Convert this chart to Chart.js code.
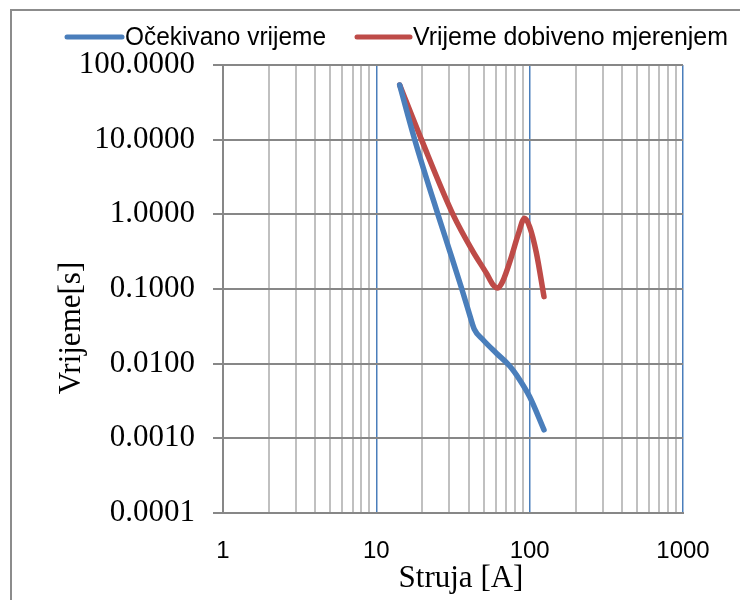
<!DOCTYPE html>
<html><head><meta charset="utf-8">
<script src="https://cdn.jsdelivr.net/npm/chart.js@4/dist/chart.umd.min.js"></script>
<style>html,body{margin:0;padding:0;background:#fff}#wrap{width:740px;height:600px}</style>
</head><body><div id="wrap"><canvas id="c" width="740" height="600"></canvas></div>
<script>
const seriesNames = ['Očekivano vrijeme', 'Vrijeme dobiveno mjerenjem'];
const expectedCurrent = [14.2, 17.8, 25.2, 30, 36.1, 40, 43.5, 49.6, 60.7, 74.1, 86, 100, 124];
const expectedTime    = [54, 10, 1, 0.33, 0.1, 0.05, 0.029, 0.0209, 0.0138, 0.0093, 0.0061, 0.0036, 0.0013];
const measuredCurrent = [14.2, 19.7, 31.6, 42.7, 52.2, 57.5, 62, 66.5, 76, 84, 92.7, 100, 110.6, 124];
const measuredTime    = [54, 10, 1.0, 0.317, 0.163, 0.115, 0.103, 0.125, 0.27, 0.53, 0.887, 0.68, 0.305, 0.079];
const xTickValues = [1,2,3,4,5,6,7,8,9,10,20,30,40,50,60,70,80,90,100,200,300,400,500,600,700,800,900,1000];
const yTickValues = [0.0001, 0.001, 0.01, 0.1, 1, 10, 100];
const xTitle = 'Struja [A]';
const yTitle = 'Vrijeme[s]';

const isDecade = v => Math.abs(Math.log10(v) - Math.round(Math.log10(v))) < 1e-9;
const toPts = (xs, ys) => xs.map((x, i) => ({x: x, y: ys[i]}));

const colors = ['#4A7EBB', '#BE4B48'];
const serif = '"Liberation Serif", "Times New Roman", serif';
const sans = '"Liberation Sans", Arial, sans-serif';

const decor = {
  id: 'decor',
  afterDraw(chart) {
    const ctx = chart.ctx;
    ctx.save();
    ctx.strokeStyle = '#8c8c8c';
    ctx.lineWidth = 2;
    ctx.strokeRect(11, 10, 900, 900);
    const items = [{x0: 67, x1: 122, tx: 125, w: 201}, {x0: 357, x1: 410, tx: 413, w: 315}];
    ctx.font = '26px ' + sans;
    ctx.textBaseline = 'middle';
    ctx.textAlign = 'left';
    chart.data.datasets.forEach((ds, i) => {
      const it = items[i];
      ctx.strokeStyle = ds.borderColor;
      ctx.lineWidth = 5;
      ctx.lineCap = 'round';
      ctx.beginPath(); ctx.moveTo(it.x0, 37); ctx.lineTo(it.x1, 37); ctx.stroke();
      ctx.fillStyle = '#000';
      const m = ctx.measureText(ds.label).width;
      ctx.save();
      ctx.translate(it.tx, 38);
      ctx.scale(it.w / m, 1);
      ctx.fillText(ds.label, 0, 0);
      ctx.restore();
    });
    ctx.fillStyle = '#000';
    ctx.font = '31px ' + serif;
    ctx.textAlign = 'center';
    ctx.fillText(xTitle, 461, 579);
    ctx.translate(72, 328);
    ctx.rotate(-Math.PI / 2);
    ctx.fillText(yTitle, 0, 0);
    ctx.restore();
  }
};

new Chart(document.getElementById('c'), {
  type: 'line',
  data: {
    datasets: [
      {label: seriesNames[0], data: toPts(expectedCurrent, expectedTime), borderColor: colors[0], backgroundColor: colors[0]},
      {label: seriesNames[1], data: toPts(measuredCurrent, measuredTime), borderColor: colors[1], backgroundColor: colors[1]}
    ].map(d => Object.assign(d, {borderWidth: 5.5, pointRadius: 0, fill: false, cubicInterpolationMode: 'monotone', borderCapStyle: 'round', borderJoinStyle: 'round', clip: false}))
  },
  options: {
    responsive: false, animation: false, devicePixelRatio: 1,
    layout: {padding: {left: 0, top: 65, right: 57, bottom: 0}},
    plugins: {legend: {display: false}, tooltip: {enabled: false}},
    scales: {
      x: {
        type: 'logarithmic', min: 1, max: 1000,
        afterBuildTicks: s => { s.ticks = xTickValues.map(v => ({value: v})); },
        afterFit: s => { s.height = 87; },
        ticks: {autoSkip: false, maxRotation: 0, color: '#000', padding: 24,
          font: {family: sans, size: 24},
          callback: v => isDecade(v) ? String(v) : ''},
        grid: {drawTicks: false,
          color: c => (c.tick && isDecade(c.tick.value) && c.tick.value > 1) ? '#4A7EBB' : (c.tick && c.tick.value === 1 ? '#878787' : '#C0C0C0'),
          lineWidth: c => (c.tick && isDecade(c.tick.value) && c.tick.value > 1) ? 1.5 : 2},
        border: {color: '#878787', width: 2}
      },
      y: {
        type: 'logarithmic', min: 0.0001, max: 100,
        afterBuildTicks: s => { s.ticks = yTickValues.map(v => ({value: v})); },
        afterFit: s => { s.width = 223; },
        ticks: {autoSkip: false, color: '#000', padding: 18,
          font: {family: serif, size: 31},
          callback: v => Number(v).toFixed(4)},
        grid: {color: '#878787', lineWidth: 2, drawTicks: true, tickLength: 10, tickColor: '#878787'},
        border: {color: '#878787', width: 2}
      }
    }
  },
  plugins: [decor]
});
</script></body></html>
